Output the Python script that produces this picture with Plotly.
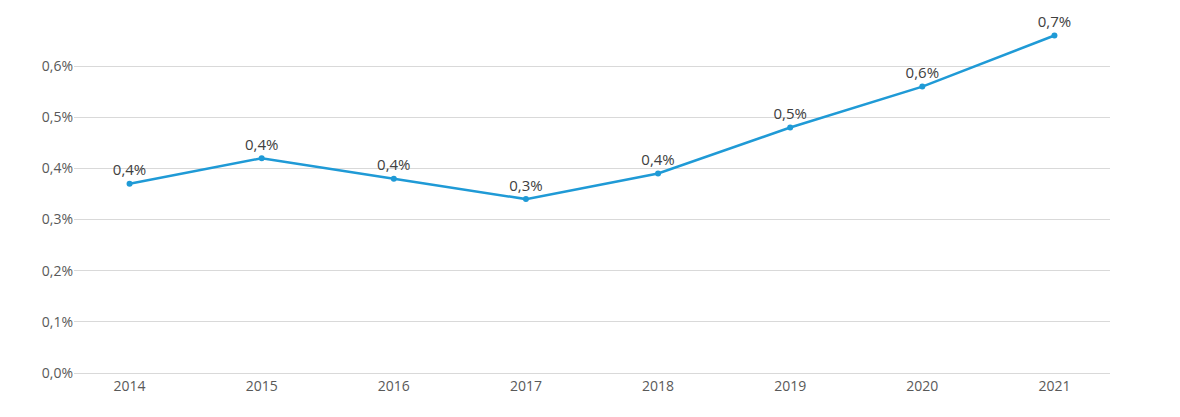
import plotly.graph_objects as go

years = ["2014", "2015", "2016", "2017", "2018", "2019", "2020", "2021"]
values = [0.37, 0.42, 0.38, 0.34, 0.39, 0.48, 0.56, 0.66]
labels = [f"{v:.1f}%".replace(".", ",") for v in values]
tick_vals = [0.0, 0.1, 0.2, 0.3, 0.4, 0.5, 0.6, 0.7]
tick_text = [f"{v:.1f}%".replace(".", ",") for v in tick_vals]

fig = go.Figure(go.Scatter(
    x=years, y=values, mode="lines+markers+text",
    line=dict(color="#1f9ad6", width=2.5),
    marker=dict(size=6, color="#1f9ad6"),
    text=labels, textposition="top center",
    textfont=dict(size=15, color="#404040"),
    cliponaxis=False,
))
fig.update_layout(
    width=1180, height=417,
    margin=dict(l=66, r=78, t=7, b=52),
    plot_bgcolor="white", paper_bgcolor="white",
    font=dict(family="Open Sans", size=14, color="#595959"),
    showlegend=False,
)
fig.update_xaxes(type="category", showgrid=False, showline=True,
                 linecolor="#d9d9d9", ticks="", tickfont=dict(size=14))
fig.update_yaxes(range=[0, 0.7], tickvals=tick_vals, ticktext=tick_text,
                 showgrid=True, gridcolor="#d9d9d9", zeroline=False,
                 tickfont=dict(size=14), ticksuffix="  ")
fig.write_html("out.html")
